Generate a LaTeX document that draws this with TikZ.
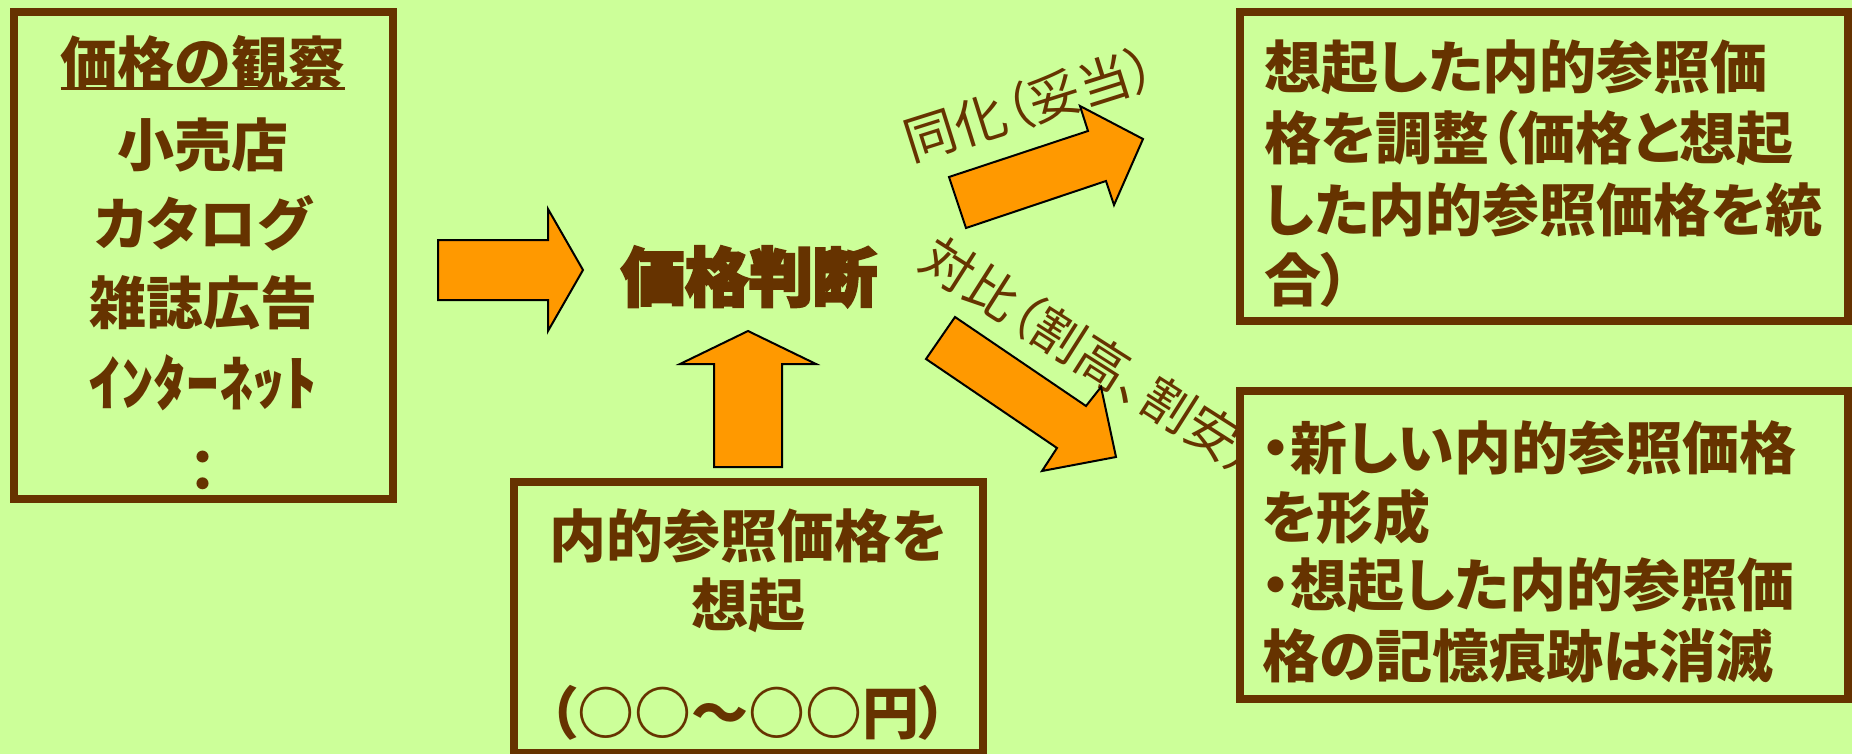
\documentclass[tikz,border=0pt]{standalone}
\usepackage{fontspec}
\newfontfamily\jp{Noto Sans CJK JP}[RawFeature=+palt]
\newfontfamily\jpheavy{Noto Sans CJK JP}[BoldFeatures={FakeBold=4}]
\definecolor{bgc}{HTML}{CCFF99}
\definecolor{brn}{HTML}{663300}
\definecolor{org}{HTML}{FF9900}
\tikzset{
  box/.style={draw=brn, line width=8pt, fill=bgc, rectangle, inner sep=0pt},
  boxtxt/.style={text=brn, font=\jp\bfseries\fontsize{57}{57}\selectfont, inner sep=0pt},
  lbl/.style={text=brn, font=\jp\fontsize{52}{52}\selectfont, inner sep=0pt, anchor=center},
  blockarrow/.style={fill=org, draw=black, line width=2pt, line join=miter},
}
\begin{document}
\begin{tikzpicture}[x=1pt,y=-1pt]
\useasboundingbox (0,0) rectangle (1852,754);
\fill[bgc] (0,0) rectangle (1852,754);

% labels (drawn first, boxes may cover their ends)
\node[lbl, rotate=17.5] (assim) at (1030,104) {同化（妥当）};
\node[lbl, rotate=-32.5] (contr) at (1092,356) {対比（割高、割安）};

% boxes
\node[box, minimum width=379pt, minimum height=487pt] (obs) at (203.5,255.5) {};
\node[box, minimum width=469.5pt, minimum height=271pt] (recall) at (748.25,617.5) {};
\node[box, minimum width=608pt, minimum height=309pt] (adj) at (1544,166.5) {};
\node[box, minimum width=608pt, minimum height=308pt] (newp) at (1544,545) {};

% left box text
\node[boxtxt, anchor=base] (o1) at (203,85) {価格の観察};
\draw[brn, line width=3pt] ([yshift=-4pt]o1.base west) -- ([yshift=-4pt]o1.base east);
\node[boxtxt, anchor=base] (o2) at (203,167) {小売店};
\node[boxtxt, anchor=base] (o3) at (203,245) {カタログ};
\node[boxtxt, anchor=base] (o4) at (203,324) {雑誌広告};
\node[boxtxt, anchor=base] (o5) at (203,405) {\scalebox{1.15}[1.05]{ｲﾝﾀｰﾈｯﾄ}};
\node[boxtxt, anchor=base] (o6) at (203,491) {：};

% center
\node[text=brn, font=\jpheavy\bfseries\fontsize{64}{64}\selectfont, inner sep=0pt, anchor=base] (judge) at (749,301) {価格判断};

% bottom box text
\node[boxtxt, anchor=base] (r1) at (748,557) {内的参照価格を};
\node[boxtxt, anchor=base] (r2) at (748,626) {想起};
\node[boxtxt, anchor=base] (r3) at (748,734) {（○○～○○円）};

% top right text
\node[boxtxt, anchor=base west] (a1) at (1264,89) {想起した内的参照価};
\node[boxtxt, anchor=base west] (a2) at (1264,160) {格を調整（価格と想起};
\node[boxtxt, anchor=base west] (a3) at (1264,231) {した内的参照価格を統};
\node[boxtxt, anchor=base west] (a4) at (1264,301) {合）};

% lower right text
\node[boxtxt, anchor=base west] (n1) at (1262,469) {・新しい内的参照価格};
\node[boxtxt, anchor=base west] (n2) at (1262,538) {を形成};
\node[boxtxt, anchor=base west] (n3) at (1262,606) {・想起した内的参照価};
\node[boxtxt, anchor=base west] (n4) at (1262,677) {格の記憶痕跡は消滅};

% block arrows
\draw[blockarrow] (438,240) -- (548,240) -- (548,209) -- (583,270) -- (548,331) -- (548,300) -- (438,300) -- cycle;
\draw[blockarrow] (714,467) -- (714,364) -- (680,364) -- (748,331) -- (816,364) -- (782,364) -- (782,467) -- cycle;
\draw[blockarrow] (949,177) -- (1088,131) -- (1080,106) -- (1143,139) -- (1114,205) -- (1106,181) -- (966,228) -- cycle;
\draw[blockarrow] (955,317) -- (1086,406) -- (1101,387) -- (1116,457) -- (1042,471) -- (1057,448) -- (926,359) -- cycle;
\end{tikzpicture}
\end{document}
